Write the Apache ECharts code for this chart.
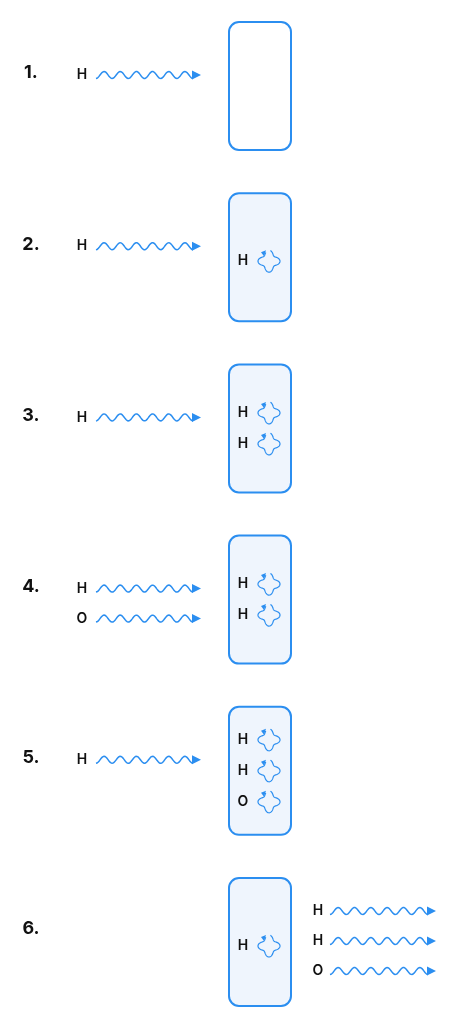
<!DOCTYPE html>
<html><head><meta charset="utf-8">
<script src="https://cdn.jsdelivr.net/npm/echarts@6/dist/echarts.min.js"></script>
<style>html,body{margin:0;padding:0;background:#fff}#main{width:473px;height:1015px}</style>
</head><body><div id="main"></div>
<script>
// 每一步的数据
var steps = ['1.', '2.', '3.', '4.', '5.', '6.'];
var incoming = [['H'], ['H'], ['H'], ['H', 'O'], ['H'], []];
var trapped = [[], ['H'], ['H', 'H'], ['H', 'H'], ['H', 'H', 'O'], ['H']];
var outgoing = [[], [], [], [], [], ['H', 'H', 'O']];

var BLUE = '#2b8ef0';
var rowTop = 22, rowStep = 171.2, boxH = 128;

var items = [];
steps.forEach(function (s, r) {
  items.push(['step', r, 0, s]);
  items.push(['box', r, 0, trapped[r].length]);
  incoming[r].forEach(function (l, i) { items.push(['in', r, i, l]); });
  trapped[r].forEach(function (l, i) { items.push(['trap', r, i, trapped[r].length]); items.push(['trapL', r, i, l]); });
  outgoing[r].forEach(function (l, i) { items.push(['out', r, i, l]); });
});

function wave(api, x0, x1, y) {
  var pts = [];
  var end = x1 - 8;
  for (var x = x0; x <= end; x += 1) {
    var p = api.coord([x, y + 3.5 * Math.sin((x - x0) / (end - x0) * Math.PI * 2 * 6 - Math.PI / 2) * -1]);
    pts.push(p);
  }
  var a = api.coord([x1, y]), b = api.coord([x1 - 9, y - 4.5]), c = api.coord([x1 - 9, y + 4.5]);
  return [
    { type: 'polyline', shape: { points: pts }, style: { stroke: BLUE, lineWidth: 1.5, fill: null } },
    { type: 'polygon', shape: { points: [a, b, c] }, style: { fill: BLUE } }
  ];
}
function loop(api, cx, cy) {
  var pts = [];
  for (var t = 0.35; t <= Math.PI * 2 - 0.1; t += 0.05) {
    var ang = -Math.PI / 2 - t;
    var rr = 9 + 2 * Math.cos(4 * ang);
    pts.push(api.coord([cx + rr * Math.cos(ang), cy + rr * Math.sin(ang)]));
  }
  var s = pts[0];
  var tip = api.coord([cx - 8, cy - 9]);
  return [
    { type: 'polyline', shape: { points: pts }, style: { stroke: BLUE, lineWidth: 1.2, fill: null } },
    { type: 'polygon', shape: { points: [tip, [tip[0] + 5, tip[1] - 2], [tip[0] + 3, tip[1] + 4]] }, style: { fill: BLUE } }
  ];
}
function letter(api, x, y, t, bold) {
  var p = api.coord([x, y]);
  return { type: 'text', x: p[0], y: p[1], style: { text: t, fill: '#111', font: (bold ? '700 18px' : '600 14px') + ' Inter, "Noto Sans", sans-serif', align: 'center', verticalAlign: 'middle' } };
}
function trapY(r, i, n) {
  var c = rowTop + rowStep * r + boxH / 2 + (n === 1 ? 4 : 0);
  return c + (i - (n - 1) / 2) * 31;
}

var myChart = echarts.init(document.getElementById('main'));
var option = {
  animation: false,
  grid: { left: 0, right: 0, top: 0, bottom: 0 },
  xAxis: { type: 'value', min: 0, max: 473, show: false },
  yAxis: { type: 'value', min: 0, max: 1015, inverse: true, show: false },
  series: [{
    type: 'custom',
    data: items,
    encode: { x: -1, y: -1 },
    renderItem: function (params, api) {
      var d = items[params.dataIndex];
      var kind = d[0], r = d[1], i = d[2];
      var top = rowTop + rowStep * r;
      if (kind === 'step') return letter(api, 31, top + 51, d[3], true);
      if (kind === 'box') {
        var p0 = api.coord([229, top]), p1 = api.coord([291, top + boxH]);
        return { type: 'rect', shape: { x: p0[0], y: p0[1], width: p1[0] - p0[0], height: p1[1] - p0[1], r: 10 },
          style: { fill: d[3] ? '#eff5fd' : '#fff', stroke: BLUE, lineWidth: 2 } };
      }
      if (kind === 'in') {
        var y = top + 53 + i * 30;
        return { type: 'group', children: [letter(api, 82, y, d[3])].concat(wave(api, 96, 201, y)) };
      }
      if (kind === 'trap') return { type: 'group', children: loop(api, 269, trapY(r, i, d[3])) };
      if (kind === 'trapL') return letter(api, 243, trapY(r, i, trapped[r].length), d[3]);
      if (kind === 'out') {
        var yo = top + 33 + i * 30;
        return { type: 'group', children: [letter(api, 318, yo, d[3])].concat(wave(api, 330, 436, yo)) };
      }
    }
  }]
};
myChart.setOption(option, true);
</script></body></html>
